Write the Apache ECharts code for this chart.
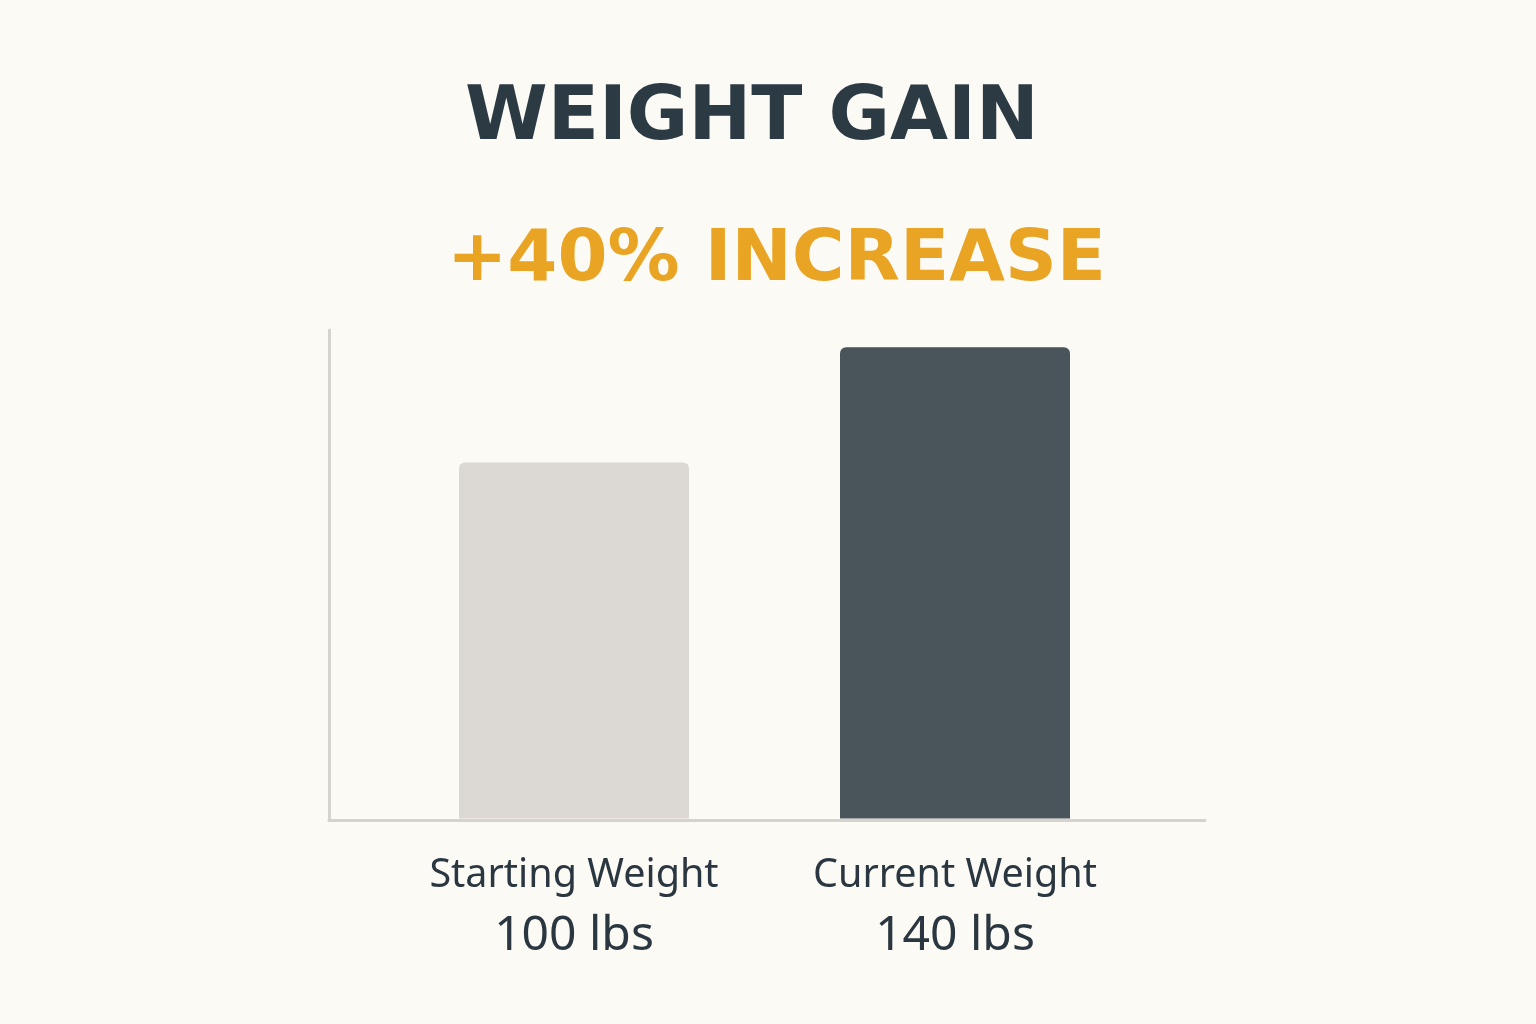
<!DOCTYPE html>
<html>
<head>
<meta charset="utf-8">
<script src="https://cdn.jsdelivr.net/npm/echarts@6/dist/echarts.min.js"></script>
<style>
html,body{margin:0;padding:0;background:#fcfaf5;}
#c{width:1536px;height:1024px;}
</style>
</head>
<body>
<div id="c"></div>
<script>
var titleText = 'WEIGHT GAIN';
var subtitleText = '+40% INCREASE';
var categories = ['Starting Weight', 'Current Weight'];
var weights = [100, 140];
var unit = 'lbs';
var barColors = ['#dcd8d3', '#4a545b'];

var chart = echarts.init(document.getElementById('c'));
var yMin = -24, yMax = 146;
var axisColor = '#d6d3ce';
var textColor = '#2b3740';
var barWidth = 230;

chart.setOption({
  backgroundColor: '#fcfaf5',
  animation: false,
  title: [
    {
      text: titleText,
      left: 460, top: 77,
      textStyle: {fontFamily: 'DejaVu Sans', fontWeight: 'bold', fontSize: 75, lineHeight: 75, color: '#2c3a44'}
    },
    {
      text: subtitleText,
      left: 442, top: 220,
      textStyle: {fontFamily: 'DejaVu Sans', fontWeight: 'bold', fontSize: 72, lineHeight: 72, color: '#eaa423'}
    }
  ],
  grid: [
    {left: 329, right: 331, top: 330, bottom: 204},
    {left: 383.5, right: 390.5, top: 330, bottom: 204}
  ],
  xAxis: [
    {
      type: 'category', gridIndex: 0, data: categories,
      axisLine: {show: true, onZero: false, lineStyle: {color: axisColor, width: 3}},
      axisTick: {show: false}, axisLabel: {show: false}, splitLine: {show: false}
    },
    {
      type: 'category', gridIndex: 1, data: categories,
      axisLine: {show: false, onZero: false}, axisTick: {show: false}, splitLine: {show: false},
      axisLabel: {
        margin: 31,
        formatter: function (v, i) {
          return '{n|' + v + '}\n{v|' + weights[i] + ' ' + unit + '}';
        },
        rich: {
          n: {fontFamily: 'Noto Sans', fontSize: 39.5, lineHeight: 50, color: textColor},
          v: {fontFamily: 'Noto Sans', fontSize: 48, lineHeight: 70, color: textColor}
        }
      }
    }
  ],
  yAxis: [
    {
      type: 'value', gridIndex: 0, min: yMin, max: yMax,
      axisLine: {show: true, lineStyle: {color: axisColor, width: 3}},
      axisTick: {show: false}, axisLabel: {show: false}, splitLine: {show: false}
    },
    {
      type: 'value', gridIndex: 1, min: yMin, max: yMax,
      axisLine: {show: false}, axisTick: {show: false}, axisLabel: {show: false}, splitLine: {show: false}
    }
  ],
  series: [
    {
      type: 'custom', xAxisIndex: 1, yAxisIndex: 1,
      data: weights.map(function (w, i) { return [i, w]; }),
      encode: {x: 0, y: 1},
      renderItem: function (params, api) {
        var idx = api.value(0);
        var top = api.coord([idx, api.value(1)]);
        var base = api.coord([idx, yMin]);
        return {
          type: 'rect',
          shape: {x: top[0] - barWidth / 2, y: top[1], width: barWidth, height: base[1] - top[1] - 1.5, r: [6, 6, 0, 0]},
          style: {fill: barColors[params.dataIndex]}
        };
      }
    }
  ]
});
</script>
</body>
</html>
